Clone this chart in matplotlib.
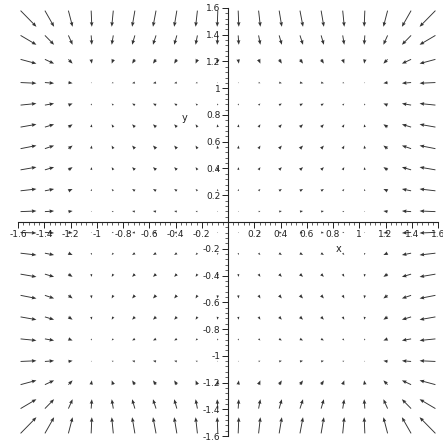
import numpy as np
import matplotlib
matplotlib.use("Agg")
import matplotlib.pyplot as plt
from matplotlib.ticker import MultipleLocator, FuncFormatter

# grid of field sample points (cell centres of a 20x20 grid on [-1.6,1.6])
grid_x = [-1.52, -1.36, -1.2, -1.04, -0.88, -0.72, -0.56, -0.4, -0.24, -0.08,
          0.08, 0.24, 0.4, 0.56, 0.72, 0.88, 1.04, 1.2, 1.36, 1.52]
grid_y = list(grid_x)
tick_values = [-1.6, -1.4, -1.2, -1.0, -0.8, -0.6, -0.4, -0.2,
               0.2, 0.4, 0.6, 0.8, 1.0, 1.2, 1.4, 1.6]

X, Y = np.meshgrid(grid_x, grid_y)
U = X - X**3
V = Y - Y**3

fig = plt.figure(figsize=(4.43, 4.40), dpi=100)
ax = fig.add_axes([18/443, 4/440, 420/443, 428/440])
ax.set_xlim(-1.6, 1.6)
ax.set_ylim(-1.6, 1.6)

ax.quiver(X, Y, U, V, angles='xy', scale_units='xy', scale=16.5,
          pivot='middle', color='#333333', width=0.0022,
          headwidth=4, headlength=5, headaxislength=4.5,
          minlength=0.3, minshaft=1)

for s in ['top', 'right']:
    ax.spines[s].set_visible(False)
ax.spines['left'].set_position(('data', 0))
ax.spines['bottom'].set_position(('data', 0))
for s in ['left', 'bottom']:
    ax.spines[s].set_linewidth(0.8)
    ax.spines[s].set_color('#222222')

ax.set_xticks(tick_values)
ax.set_yticks(tick_values)
ax.xaxis.set_minor_locator(MultipleLocator(0.04))
ax.yaxis.set_minor_locator(MultipleLocator(0.04))
fmt = FuncFormatter(lambda v, p: '%g' % round(v, 2))
ax.xaxis.set_major_formatter(fmt)
ax.yaxis.set_major_formatter(fmt)
ax.tick_params(which='major', direction='out', length=4, width=0.7,
               labelsize=6.5, pad=1.5, colors='#222222')
ax.tick_params(which='minor', direction='out', length=2, width=0.5,
               colors='#222222')

ax.text(0.84, -0.2, 'x', fontsize=7, ha='center', va='center', color='#222222')
ax.text(-0.33, 0.78, 'y', fontsize=7, ha='center', va='center', color='#222222')

fig.savefig('out.png', dpi=100)
